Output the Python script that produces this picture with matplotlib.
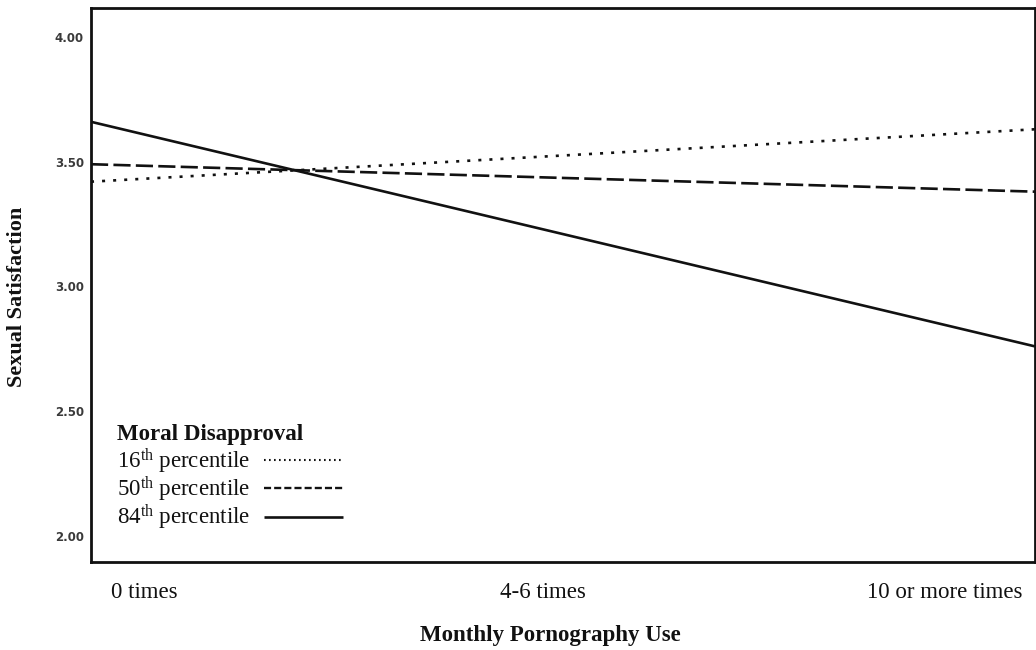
import matplotlib
matplotlib.use("Agg")
import matplotlib.pyplot as plt

# Data
x_levels = [0, 1, 2]
x_labels = ["0 times", "4-6 times", "10 or more times"]
y_ticks = [2.00, 2.50, 3.00, 3.50, 4.00]
series_names = ["16$^{\\mathrm{th}}$ percentile", "50$^{\\mathrm{th}}$ percentile", "84$^{\\mathrm{th}}$ percentile"]
p16 = [3.42, 3.525, 3.63]
p50 = [3.49, 3.435, 3.38]
p84 = [3.66, 3.21, 2.76]
legend_title = "Moral Disapproval"

plt.rcParams['mathtext.fontset'] = 'custom'
plt.rcParams['mathtext.rm'] = 'Liberation Serif'
plt.rcParams['mathtext.it'] = 'Liberation Serif:italic'
plt.rcParams['mathtext.bf'] = 'Liberation Serif:bold'

W, H = 1036, 650
fig = plt.figure(figsize=(W / 100, H / 100), dpi=100)
L, R, T, B = 91, 1035, 8, 562
ax = fig.add_axes([L / W, 1 - B / H, (R - L) / W, (B - T) / H])

lw = 1.9
styles = [(0, (1.15, 3.05)), (0, (6.5, 2.0)), '-']
data = [p16, p50, p84]
for vals, ls in zip(data, styles):
    ax.plot(x_levels, vals, color='#111111', lw=lw, linestyle=ls,
            dash_capstyle='butt', solid_capstyle='butt')

ax.set_xlim(0, 2)
ax.set_ylim(1.896, 4.116)
ax.set_yticks(y_ticks)
ax.set_yticklabels([f"{v:.2f}" for v in y_ticks], fontsize=8.5,
                   fontweight='bold', color='#3a3a3a', family='DejaVu Sans')
ax.tick_params(axis='y', length=0, pad=5)
ax.set_xticks([])
for s in ax.spines.values():
    s.set_linewidth(2.0)
    s.set_color('#111111')

# category labels
serif = 'Liberation Serif'
x_centers = [144, 543, 945]
for xc, lab in zip(x_centers, x_labels):
    fig.text(xc / W, 1 - 593 / H, lab, ha='center', va='center',
             fontsize=16.5, family=serif, color='#111111')

fig.text(550 / W, 1 - 636 / H, "Monthly Pornography Use", ha='center', va='center',
         fontsize=16.5, family=serif, fontweight='bold', color='#111111')
fig.text(17 / W, 1 - 297 / H, "Sexual Satisfaction", ha='center', va='center',
         rotation=90, fontsize=16, family=serif, fontweight='bold', color='#111111')

# legend
def ax_y(py):
    return (B - py) / (B - T)

def ax_x(px):
    return (px - L) / (R - L)

ax.text(ax_x(117), ax_y(440), legend_title, transform=ax.transAxes, ha='left',
        va='baseline', fontsize=16.5, family=serif, fontweight='bold', color='#111111')
baselines = [468, 496, 524]
line_y = [460, 488, 517]
leg_styles = [(0, (0.8, 1.6)), (0, (3.0, 1.3)), '-']
leg_lw = [1.5, 1.7, 1.9]
for name, by, ly, ls, w in zip(series_names, baselines, line_y, leg_styles, leg_lw):
    ax.text(ax_x(117), ax_y(by), name, transform=ax.transAxes, ha='left',
            va='baseline', fontsize=16.5, family=serif, color='#111111')
    ax.plot([ax_x(264), ax_x(343)], [ax_y(ly), ax_y(ly)], transform=ax.transAxes,
            color='#111111', lw=w, linestyle=ls, dash_capstyle='butt',
            solid_capstyle='butt')

fig.savefig("out.png", dpi=100)
